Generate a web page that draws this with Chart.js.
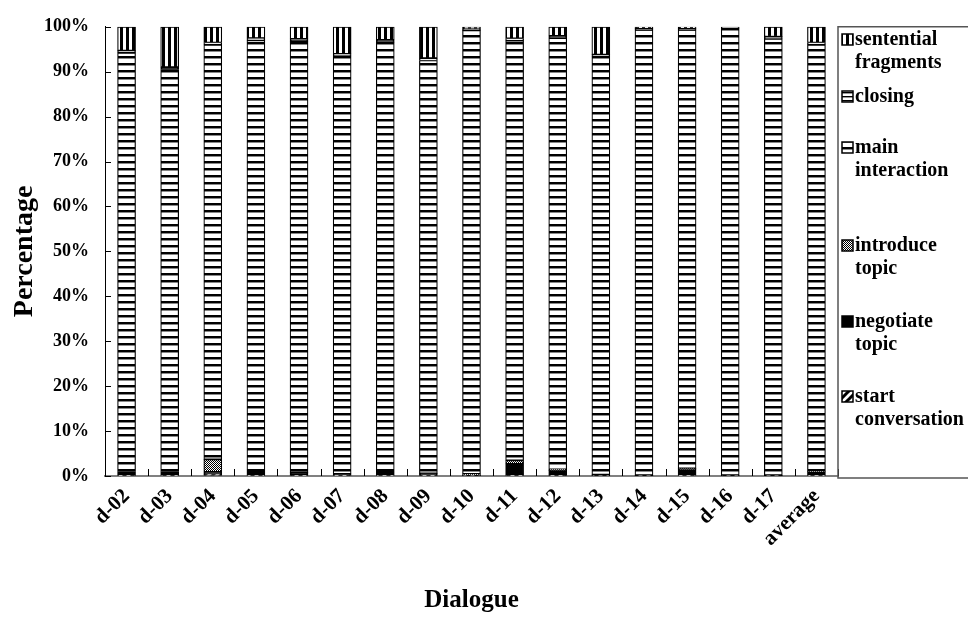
<!DOCTYPE html>
<html>
<head>
<meta charset="utf-8">
<script src="https://cdn.jsdelivr.net/npm/chart.js@4.4.1/dist/chart.umd.min.js"></script>
<style>
  html, body { margin: 0; padding: 0; background: #fff; }
  #wrap { width: 968px; height: 618px; position: relative; }
</style>
</head>
<body>
<div id="wrap"><canvas id="chart" width="968" height="618"></canvas></div>
<script>
// categories and values (percent)
const dialogues = ['d-02', 'd-03', 'd-04', 'd-05', 'd-06', 'd-07', 'd-08', 'd-09', 'd-10',
    'd-11', 'd-12', 'd-13', 'd-14', 'd-15', 'd-16', 'd-17', 'average'];
const startConversation = [0.2, 0.2, 0.4, 0.2, 0.2, 0.2, 0.2, 0.2, 0.1, 0.2, 0.2, 0.1, 0.1, 0.2, 0.1, 0.1, 0.2];
const negotiateTopic = [0.8, 0.8, 0.5, 0.7, 0.6, 0.3, 0.7, 0.4, 0.1, 2.5, 1.0, 0.2, 0.1, 1.2, 0.1, 0.1, 0.7];
const introduceTopic = [0, 0, 2.8, 0, 0, 0, 0, 0, 0.3, 0.8, 0.3, 0, 0, 0.3, 0, 0, 0.2];
const mainInteraction = [93.2, 89.5, 92.3, 96.1, 96.0, 93.0, 95.7, 91.9, 98.7, 93.4, 96.0, 93.0, 99.1, 97.6, 99.5, 97.1, 94.9];
const closing = [0.5, 0.5, 0.5, 0.5, 0.5, 0.5, 0.5, 0.5, 0.3, 0.5, 0.5, 0.5, 0.3, 0.3, 0.3, 0.5, 0.5];
const sententialFragments = [5.3, 9.0, 3.5, 2.5, 2.7, 6.0, 2.9, 7.0, 0.5, 2.6, 2.0, 6.2, 0.4, 0.4, 0, 2.2, 3.5];
const yTicks = [0, 10, 20, 30, 40, 50, 60, 70, 80, 90, 100];

const FONT = "'Liberation Serif', 'Times New Roman', serif";

// --- fill patterns (Excel-like) ---
function makePattern(w, h, draw) {
    const c = document.createElement('canvas');
    c.width = w; c.height = h;
    const g = c.getContext('2d');
    g.fillStyle = '#fff';
    g.fillRect(0, 0, w, h);
    draw(g);
    return document.getElementById('chart').getContext('2d').createPattern(c, 'repeat');
}

const patMain = makePattern(8, 7, g => {
    g.fillStyle = '#000'; g.fillRect(0, 0, 8, 2);
    g.fillStyle = '#888'; g.fillRect(0, 2, 8, 1);
});
const patClosing = makePattern(8, 4, g => {
    g.fillStyle = '#000'; g.fillRect(0, 0, 8, 1);
    g.fillStyle = '#999'; g.fillRect(0, 1, 8, 1);
});
const patSentential = makePattern(6, 8, g => {
    g.fillStyle = '#000'; g.fillRect(0, 0, 3, 8);
});
const patIntroduce = makePattern(2, 2, g => {
    g.fillStyle = '#000'; g.fillRect(0, 0, 1, 1); g.fillRect(1, 1, 1, 1);
});
const patStart = makePattern(8, 8, g => {
    g.strokeStyle = '#000'; g.lineWidth = 3;
    g.beginPath();
    g.moveTo(-2, 10); g.lineTo(10, -2);
    g.moveTo(-2, 2); g.lineTo(2, -2);
    g.moveTo(6, 10); g.lineTo(10, 6);
    g.stroke();
});

const series = [
    { label: 'start conversation', data: startConversation, fill: patStart },
    { label: 'negotiate topic', data: negotiateTopic, fill: '#000' },
    { label: 'introduce topic', data: introduceTopic, fill: patIntroduce },
    { label: 'main interaction', data: mainInteraction, fill: patMain },
    { label: 'closing', data: closing, fill: patClosing },
    { label: 'sentential fragments', data: sententialFragments, fill: patSentential }
];

// legend lines, top to bottom, with y of each text line
const legendItems = [
    { idx: 5, lines: ['sentential', 'fragments'], y: [40, 63] },
    { idx: 4, lines: ['closing'], y: [97] },
    { idx: 3, lines: ['main', 'interaction'], y: [148, 171] },
    { idx: 2, lines: ['introduce', 'topic'], y: [246, 269] },
    { idx: 1, lines: ['negotiate', 'topic'], y: [322, 345] },
    { idx: 0, lines: ['start', 'conversation'], y: [397, 420] }
];

const sideLegend = {
    id: 'sideLegend',
    afterDraw(chart) {
        const ctx = chart.ctx;
        const area = chart.chartArea;
        const x0 = area.right;
        ctx.save();
        ctx.strokeStyle = '#555';
        ctx.lineWidth = 1.5;
        ctx.beginPath();
        ctx.moveTo(968, area.top);
        ctx.lineTo(x0, area.top);
        ctx.lineTo(x0, area.bottom + 2);
        ctx.lineTo(968, area.bottom + 2);
        ctx.stroke();

        ctx.font = 'bold 20px ' + FONT;
        ctx.textBaseline = 'middle';
        legendItems.forEach(item => {
            const s = series[item.idx];
            ctx.fillStyle = s.fill;
            ctx.fillRect(x0 + 4, item.y[0] - 6, 11, 11);
            ctx.strokeStyle = '#000';
            ctx.lineWidth = 1.5;
            ctx.strokeRect(x0 + 4, item.y[0] - 6, 11, 11);
            ctx.fillStyle = '#000';
            item.lines.forEach((t, i) => ctx.fillText(t, x0 + 17, item.y[i]));
        });
        ctx.restore();
    }
};

// inward tick marks on both axes
const innerTicks = {
    id: 'innerTicks',
    afterDatasetsDraw(chart) {
        const ctx = chart.ctx;
        const xs = chart.scales.x, ys = chart.scales.y;
        ctx.save();
        ctx.strokeStyle = '#000';
        ctx.lineWidth = 1;
        ctx.beginPath();
        ys.ticks.forEach(t => {
            const y = Math.round(ys.getPixelForValue(t.value)) + 0.5;
            ctx.moveTo(xs.left, y);
            ctx.lineTo(xs.left + 6, y);
        });
        const n = dialogues.length;
        for (let i = 0; i <= n; i++) {
            const x = Math.round(xs.left + i * (xs.right - xs.left) / n) + 0.5;
            ctx.moveTo(x, ys.bottom);
            ctx.lineTo(x, ys.bottom - 7);
        }
        ctx.stroke();
        ctx.restore();
    }
};

new Chart(document.getElementById('chart'), {
    type: 'bar',
    data: {
        labels: dialogues,
        datasets: series.map(s => ({
            label: s.label,
            data: s.data,
            backgroundColor: s.fill,
            borderColor: '#000',
            borderWidth: 1.2,
            borderSkipped: false,
            barThickness: 18
        }))
    },
    options: {
        responsive: false,
        animation: false,
        devicePixelRatio: 1,
        layout: { padding: { top: 20, right: 130, left: 0, bottom: 0 } },
        plugins: {
            legend: { display: false },
            tooltip: { enabled: false }
        },
        scales: {
            x: {
                stacked: true,
                grid: { display: true, drawOnChartArea: false, drawTicks: false },
                border: { display: true, color: '#808080', width: 2 },
                ticks: {
                    color: '#000',
                    font: { family: FONT, size: 21, weight: 'bold' },
                    maxRotation: 45,
                    minRotation: 45,
                    padding: 8,
                    autoSkip: false
                },
                title: {
                    display: true,
                    text: 'Dialogue',
                    color: '#000',
                    font: { family: FONT, size: 25, weight: 'bold' },
                    padding: { top: 0, bottom: 2 }
                },
                afterFit: s => { s.height = 142; }
            },
            y: {
                stacked: true,
                min: 0,
                max: 100,
                afterBuildTicks: s => { s.ticks = yTicks.map(v => ({ value: v })); },
                grid: { display: true, drawOnChartArea: false, drawTicks: false },
                border: { display: true, color: '#000', width: 1 },
                ticks: {
                    color: '#000',
                    font: { family: FONT, size: 18, weight: 'bold' },
                    padding: 16,
                    callback: v => v + '%'
                },
                title: {
                    display: true,
                    text: 'Percentage',
                    color: '#000',
                    font: { family: FONT, size: 28, weight: 'bold' },
                    padding: { top: 8, bottom: 0 }
                },
                afterFit: s => { s.width = 105; }
            }
        }
    },
    plugins: [innerTicks, sideLegend]
});
</script>
</body>
</html>
